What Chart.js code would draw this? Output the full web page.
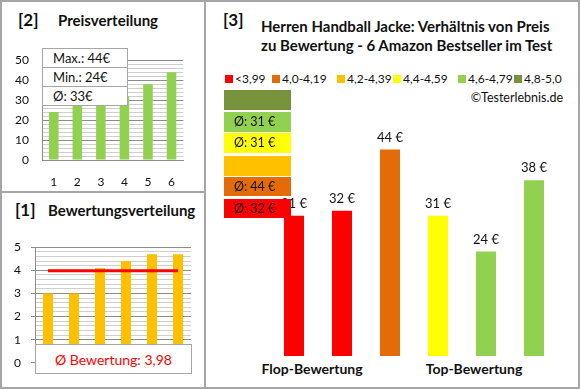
<!DOCTYPE html>
<html>
<head>
<meta charset="utf-8">
<script src="https://cdn.jsdelivr.net/npm/chart.js@4.4.1/dist/chart.umd.min.js"></script>
<style>
  body { margin: 0; background: #fff; }
  #wrap { position: relative; width: 580px; height: 390px; font-family: Lato, sans-serif; color: #111; overflow: hidden; }
  .abs { position: absolute; }
  .t { position: absolute; white-space: nowrap; }
  .frame { position: absolute; background: #a6a6a6; }
  canvas { position: absolute; }
</style>
</head>
<body>
<div id="wrap">
  <div class="frame" style="left:0;top:0;width:580px;height:2px"></div>
  <div class="frame" style="left:0;top:387px;width:580px;height:2px"></div>
  <div class="frame" style="left:0;top:0;width:2px;height:389px"></div>
  <div class="frame" style="left:578px;top:0;width:2px;height:389px"></div>
  <div class="frame" style="left:204px;top:0;width:2px;height:389px"></div>
  <div class="frame" style="left:0;top:191px;width:205px;height:2px"></div>

  <!-- panel [2] -->
  <div class="t" style="left:18px;top:9px;font-size:17px;font-weight:bold;line-height:22px">[2]</div>
  <div class="t" style="left:58px;top:10px;font-size:15px;font-weight:bold;line-height:20px">Preisverteilung</div>
  <div class="abs" style="left:5px;top:40px;width:185px;height:150px"><canvas id="priceChart"></canvas></div>
  <div id="statsBox" class="abs" style="left:42px;top:48px;width:84px;background:#fff;border:1px solid #a6a6a6"></div>

  <!-- panel [1] -->
  <div class="t" style="left:15px;top:199px;font-size:17px;font-weight:bold;line-height:22px">[1]</div>
  <div class="t" style="left:48px;top:200px;font-size:15px;font-weight:bold;line-height:20px">Bewertungsverteilung</div>
  <div class="abs" style="left:5px;top:230px;width:186px;height:150px"><canvas id="ratingChart"></canvas></div>
  <div id="ratingBox" class="abs" style="left:35px;top:344px;width:155px;height:28px;background:#fff;border:1px solid #a6a6a6;color:#ff0000;font-size:14px;line-height:29px;text-align:center"></div>

  <!-- panel [3] -->
  <div class="t" style="left:223px;top:9px;font-size:17px;font-weight:bold;line-height:22px">[3]</div>
  <div class="t" style="left:261px;top:16px;font-size:15px;font-weight:bold;line-height:20px">Herren Handball Jacke: Verhältnis von Preis</div>
  <div class="t" style="left:261px;top:35px;font-size:15px;font-weight:bold;line-height:20px">zu Bewertung - 6 Amazon Bestseller im Test</div>
  <div id="legend"></div>
  <div class="t" style="right:17px;top:89px;font-size:12.5px;line-height:18px">©Testerlebnis.de</div>
  <div class="abs" style="left:270px;top:119px;width:288px;height:237px"><canvas id="mainChart"></canvas></div>
  <div id="bandBoxes"></div>
  <div id="groupLabels"></div>
</div>

<script>
// price distribution (panel 2, sorted)
const priceDist = [24, 31, 31, 32, 38, 44];
const priceTicksMax = 50;
const priceStats = ['Max.: 44€', 'Min.: 24€', 'Ø: 33€'];

// rating distribution (panel 1)
const ratingDist = [3.0, 3.0, 4.1, 4.4, 4.7, 4.7];
const avgRating = 3.98;
const avgRatingText = 'Ø Bewertung: 3,98';

// main chart (panel 3)
const products = ['1', '2', '3', '4', '5', '6'];
const prices = [31, 32, 44, 31, 24, 38];
const productBand = [0, 0, 1, 3, 4, 4];
const bandLabels = ['<3,99', '4,0-4,19', '4,2-4,39', '4,4-4,59', '4,6-4,79', '4,8-5,0'];
const bandColors = ['#ff0000', '#e36c09', '#ffc000', '#ffff00', '#92d050', '#77933c'];
const bandAverages = ['Ø: 32 €', 'Ø: 44 €', '', 'Ø: 31 €', 'Ø: 31 €', ''];
const groupLabels = ['Flop-Bewertung', 'Top-Bewertung'];

Chart.defaults.font.family = 'Lato, sans-serif';
Chart.defaults.color = '#111';
Chart.defaults.animation = false;

const major = '#8c8c8c';
const minor = '#cfcfcf';

// ---- overlays ----
const statsBox = document.getElementById('statsBox');
priceStats.forEach(function(s, i) {
    const row = document.createElement('div');
    row.textContent = s;
    row.style.cssText = 'height:18px;line-height:18px;font-size:13px;padding-left:10px;' +
        (i < priceStats.length - 1 ? 'border-bottom:1px solid #a6a6a6;' : '');
    statsBox.appendChild(row);
});
document.getElementById('ratingBox').textContent = avgRatingText;

const legendX = [225, 272, 337, 393, 458, 514];
const legend = document.getElementById('legend');
bandLabels.forEach(function(lab, i) {
    const sq = document.createElement('div');
    sq.className = 'abs';
    sq.style.cssText = 'left:' + legendX[i] + 'px;top:75px;width:8px;height:8px;background:' + bandColors[i];
    legend.appendChild(sq);
    const t = document.createElement('div');
    t.className = 't';
    t.textContent = lab;
    t.style.cssText = 'left:' + (legendX[i] + 10) + 'px;top:70px;font-size:12px;line-height:18px';
    legend.appendChild(t);
});

// band boxes stacked from top: olive ... red
const boxTops = [90, 112, 133, 156, 177, 199];
const boxHeights = [20, 20, 20, 20, 19, 19];
const boxes = document.getElementById('bandBoxes');
for (let k = 0; k < bandLabels.length; k++) {
    const band = bandLabels.length - 1 - k;
    const b = document.createElement('div');
    b.className = 'abs';
    b.style.cssText = 'left:224px;top:' + boxTops[k] + 'px;width:67px;height:' +
        boxHeights[k] + 'px;background:' + bandColors[band] + ';font-size:12.5px;line-height:' + boxHeights[k] + 'px;padding-left:10px;box-sizing:border-box';
    b.textContent = bandAverages[band];
    boxes.appendChild(b);
}

const groupX = [312, 474];
const gl = document.getElementById('groupLabels');
groupLabels.forEach(function(lab, i) {
    const t = document.createElement('div');
    t.className = 't';
    t.textContent = lab;
    t.style.cssText = 'left:' + (groupX[i] - 60) + 'px;width:120px;text-align:center;top:359px;font-size:14px;font-weight:bold;line-height:20px';
    gl.appendChild(t);
});

// ---- panel 2: price distribution ----
new Chart(document.getElementById('priceChart'), {
    type: 'bar',
    data: {
        labels: products,
        datasets: [{
            data: priceDist,
            backgroundColor: '#92d050',
            barPercentage: 0.405,
            categoryPercentage: 1
        }]
    },
    options: {
        responsive: true,
        maintainAspectRatio: false,
        layout: { padding: { top: 8, right: 0, left: 0, bottom: 0 } },
        plugins: { legend: { display: false }, tooltip: { enabled: false } },
        scales: {
            x: {
                grid: { display: false, drawTicks: false },
                border: { color: major },
                ticks: { font: { size: 12 }, padding: 15 },
                afterFit: function(s) { s.height = 30; }
            },
            y: {
                min: 0,
                max: priceTicksMax,
                border: { color: major },
                grid: {
                    drawTicks: false,
                    color: function(c) { return c.tick.value % 10 === 0 ? major : minor; }
                },
                ticks: {
                    stepSize: 2,
                    autoSkip: false,
                    padding: 13,
                    font: { size: 12 },
                    callback: function(v) { return v % 10 === 0 ? v : ''; }
                },
                afterFit: function(s) { s.width = 37; }
            }
        }
    }
});

// ---- panel 1: rating distribution ----
function isInt(v) { return Math.abs(v - Math.round(v)) < 1e-6; }
new Chart(document.getElementById('ratingChart'), {
    type: 'bar',
    data: {
        labels: products,
        datasets: [{
            type: 'line',
            data: products.map(function() { return avgRating; }),
            borderColor: '#ff0000',
            borderWidth: 3,
            pointRadius: 0,
            order: 0
        }, {
            data: ratingDist,
            backgroundColor: '#ffc000',
            barPercentage: 0.385,
            categoryPercentage: 1,
            order: 1
        }]
    },
    options: {
        responsive: true,
        maintainAspectRatio: false,
        layout: { padding: { top: 8, right: 0, left: 0, bottom: 0 } },
        plugins: { legend: { display: false }, tooltip: { enabled: false } },
        scales: {
            x: {
                grid: { display: false, drawTicks: false },
                border: { color: major },
                ticks: { display: false },
                afterFit: function(s) { s.height = 7; }
            },
            y: {
                min: 0,
                max: 5,
                border: { color: major },
                grid: {
                    tickLength: 4,
                    color: function(c) { return isInt(c.tick.value) ? major : minor; },
                    tickColor: function(c) { return isInt(c.tick.value) ? major : 'rgba(0,0,0,0)'; }
                },
                ticks: {
                    stepSize: 0.2,
                    autoSkip: false,
                    padding: 10,
                    font: { size: 12 },
                    callback: function(v) { return isInt(v) ? Math.round(v) : ''; }
                },
                afterFit: function(s) { s.width = 30; }
            }
        }
    }
});

// ---- panel 3: price vs rating ----
const valueLabels = {
    id: 'valueLabels',
    afterDatasetsDraw: function(chart) {
        const ctx = chart.ctx;
        const meta = chart.getDatasetMeta(0);
        ctx.save();
        ctx.font = '13px Lato, sans-serif';
        ctx.fillStyle = '#111';
        ctx.textAlign = 'center';
        ctx.textBaseline = 'middle';
        meta.data.forEach(function(bar, i) {
            ctx.fillText(prices[i] + ' €', bar.x, bar.y - 12);
        });
        ctx.restore();
    }
};

new Chart(document.getElementById('mainChart'), {
    type: 'bar',
    data: {
        labels: products,
        datasets: [{
            data: prices,
            backgroundColor: productBand.map(function(b) { return bandColors[b]; }),
            barPercentage: 0.417,
            categoryPercentage: 1
        }]
    },
    options: {
        responsive: true,
        maintainAspectRatio: false,
        layout: { padding: 0 },
        plugins: { legend: { display: false }, tooltip: { enabled: false } },
        scales: {
            x: { display: false },
            y: { display: false, min: 3.5, max: 50 }
        }
    },
    plugins: [valueLabels]
});
</script>
</body>
</html>
